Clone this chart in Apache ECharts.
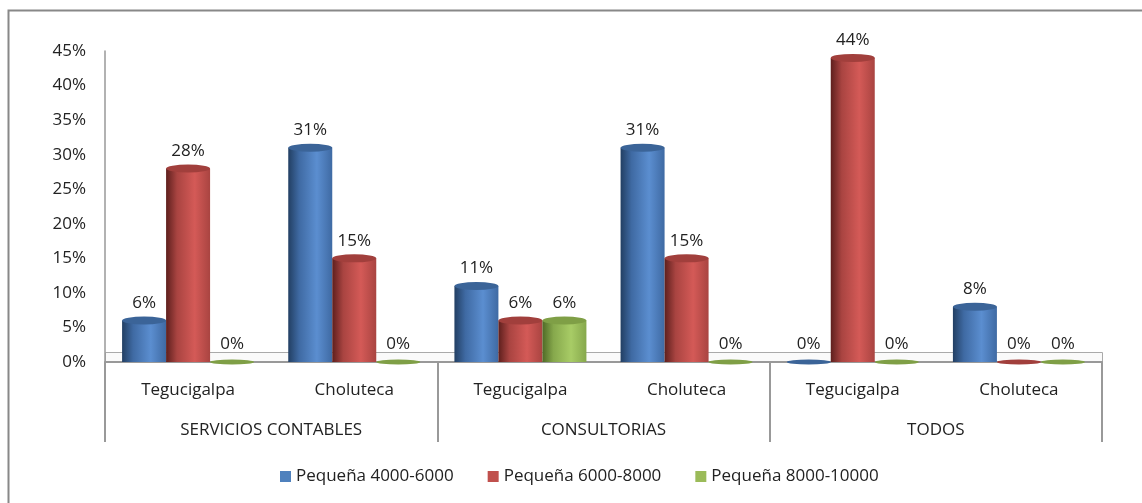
<!DOCTYPE html>
<html>
<head>
<meta charset="utf-8">
<script src="https://cdn.jsdelivr.net/npm/echarts@6/dist/echarts.min.js"></script>
<style>
    html, body { margin: 0; padding: 0; background: #fff; }
    #chart { width: 1142px; height: 503px; }
</style>
</head>
<body>
<div id="chart"></div>
<script>
var cities = ['Tegucigalpa', 'Choluteca', 'Tegucigalpa', 'Choluteca', 'Tegucigalpa', 'Choluteca'];
var groups = ['SERVICIOS CONTABLES', 'CONSULTORIAS', 'TODOS'];
var names = ['Pequeña 4000-6000', 'Pequeña 6000-8000', 'Pequeña 8000-10000'];
var small4000 = [6, 31, 11, 31, 0, 8];
var small6000 = [28, 15, 6, 15, 44, 0];
var small8000 = [0, 0, 6, 0, 0, 0];

var FONT = 'Open Sans';
// dark edge, light middle, base colour, top colour, legend colour
var palette = [
    ['#223f63', '#5b8ed0', '#3f6aa3', '#3b6498', '#4f81bd'],
    ['#5e1f1d', '#d45a57', '#a94441', '#a13f3c', '#c0504d'],
    ['#4f6a26', '#a8cc66', '#86a84c', '#7f9f46', '#9bbb59']
];

function cylinder(p) {
    return new echarts.graphic.LinearGradient(0, 0, 1, 0, [
        { offset: 0, color: p[0] },
        { offset: 0.25, color: p[2] },
        { offset: 0.65, color: p[1] },
        { offset: 1, color: p[2] }
    ]);
}

var values = [small4000, small6000, small8000];
var series = [];
values.forEach(function (v, i) {
    series.push({
        name: names[i],
        type: 'bar',
        barWidth: 44,
        barGap: 0,
        z: 2,
        itemStyle: { color: cylinder(palette[i]) },
        label: {
            show: true,
            position: 'top',
            distance: 9,
            formatter: '{c}%',
            color: '#222',
            fontFamily: FONT,
            fontSize: 17
        },
        data: v
    });
});
values.forEach(function (v, i) {
    // cylinder lids, flatter where the value is zero
    var lids = v.map(function (x) {
        return { value: x, symbolSize: x === 0 ? [44, 5] : [44, 8] };
    });
    series.push({
        name: names[i] + ' top',
        type: 'pictorialBar',
        symbol: 'circle',
        symbolPosition: 'end',
        symbolOffset: [0, '-50%'],
        barGap: 0,
        barWidth: 44,
        z: 3,
        itemStyle: { color: palette[i][3] },
        silent: true,
        data: lids
    });
});

var option = {
    backgroundColor: '#fff',
    animation: false,
    textStyle: { fontFamily: FONT },
    graphic: [
        {
            type: 'rect',
            shape: { x: 8.5, y: 10.5, width: 1160, height: 520 },
            style: { fill: 'none', stroke: '#888', lineWidth: 2 },
            z: -1
        },
        {
            // floor of the 3D plot area
            type: 'rect',
            shape: { x: 105.5, y: 352.5, width: 997, height: 10 },
            style: { fill: '#fafafa', stroke: '#aaa', lineWidth: 1 },
            z: 0
        }
    ],
    legend: {
        data: names.map(function (n, i) {
            return { name: n, itemStyle: { color: palette[i][4] } };
        }),
        left: 275,
        top: 463,
        icon: 'rect',
        itemWidth: 11,
        itemHeight: 11,
        itemGap: 34,
        textStyle: { color: '#222', fontFamily: FONT, fontSize: 17 }
    },
    grid: {
        left: 105,
        right: 40,
        top: 51,
        bottom: 141
    },
    xAxis: [
        {
            type: 'category',
            data: cities,
            axisLine: { lineStyle: { color: '#999', width: 2 } },
            axisTick: { show: false },
            axisLabel: { color: '#222', fontFamily: FONT, fontSize: 17, margin: 20 }
        },
        {
            type: 'category',
            data: groups,
            position: 'bottom',
            offset: 80,
            axisLine: { show: false },
            axisTick: { show: true, inside: true, length: 80, lineStyle: { color: '#999', width: 2 } },
            axisLabel: { inside: true, margin: 3, color: '#222', fontFamily: FONT, fontSize: 17 }
        }
    ],
    yAxis: {
        type: 'value',
        min: 0,
        max: 45,
        interval: 5,
        axisLine: { show: true, lineStyle: { color: '#999', width: 1.5 } },
        axisTick: { show: false },
        splitLine: { show: false },
        axisLabel: { formatter: '{value}%', color: '#222', fontFamily: FONT, fontSize: 17, margin: 19 }
    },
    series: series
};

var myChart = echarts.init(document.getElementById('chart'));
myChart.setOption(option);
</script>
</body>
</html>
